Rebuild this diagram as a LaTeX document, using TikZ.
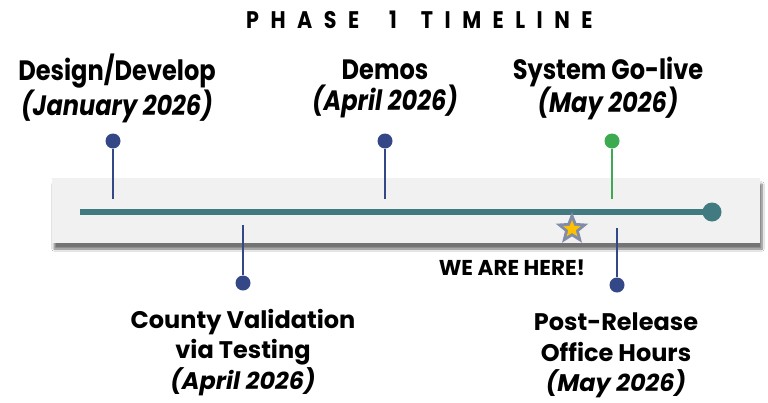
\documentclass[tikz,border=0pt]{standalone}
\usepackage{fontspec}
\setmainfont{Poppins}
\newfontfamily\condfont[FakeStretch=0.86]{Poppins}
\newcommand{\tgap}{\hspace{11.5pt}}
\usetikzlibrary{shapes.geometric,shadows.blur}
\definecolor{navy}{RGB}{52,72,135}
\definecolor{gogreen}{RGB}{59,170,80}
\definecolor{teal}{RGB}{66,122,130}
\definecolor{bandgray}{RGB}{241,241,241}
\definecolor{starblue}{RGB}{128,140,168}
\definecolor{staryellow}{RGB}{255,192,0}
\tikzset{
  band/.style={rectangle, fill=bandgray, inner sep=0pt, minimum width=708pt, minimum height=65pt,
    blur shadow={shadow xshift=2pt, shadow yshift=-6pt, shadow blur steps=8, shadow opacity=55}},
  mainline/.style={draw=teal, line width=6pt},
  endcirc/.style={circle, fill=teal, minimum width=19pt, inner sep=0pt},
  pindot/.style={circle, fill=navy, minimum size=15pt, inner sep=0pt},
  greendot/.style={circle, fill=gogreen, minimum size=15pt, inner sep=0pt},
  pinline/.style={draw=navy, line width=1.6pt},
  greenline/.style={draw=gogreen, line width=1.6pt},
  toplbl/.style={align=center, font=\condfont\bfseries\fontsize{28}{31}\selectfont, inner sep=0pt},
  botlbl/.style={align=center, font=\bfseries\fontsize{24}{30.5}\selectfont, inner sep=0pt},
  titlelbl/.style={font=\condfont\bfseries\fontsize{24}{26}\selectfont, inner sep=0pt},
  herelbl/.style={font=\bfseries\fontsize{21.5}{24}\selectfont, inner sep=0pt},
  outerstar/.style={star, star points=5, star point ratio=2.3, fill=starblue, minimum size=34pt, inner sep=0pt},
  innerstar/.style={star, star points=5, star point ratio=2.3, fill=staryellow, minimum size=18pt, inner sep=0pt}
}
\begin{document}
\begin{tikzpicture}[x=1pt,y=-1pt]
\useasboundingbox (0,0) rectangle (768,402);
\fill[white] (0,0) rectangle (768,402);
\node[titlelbl, anchor=west] (title) at (246,20) {P\tgap H\tgap A\tgap S\tgap E\hspace{30pt}1\hspace{24pt}T\tgap I\tgap M\tgap E\tgap L\tgap I\tgap N\tgap E};
\node[band] (band) at (406,210.5) {};
% main line
\coordinate (start) at (80,212);
\coordinate (endpt) at (712,212);
\draw[mainline] (start) -- (endpt);
\node[endcirc] (end) at (endpt) {};
% top pins
\node[pindot] (d1) at (113,141) {};
\coordinate (d1b) at (113,199);
\draw[pinline] (d1) -- (d1b);
\node[pindot] (d3) at (385,141) {};
\coordinate (d3b) at (385,199);
\draw[pinline] (d3) -- (d3b);
\node[greendot] (d4) at (612,141) {};
\coordinate (d4b) at (612,199);
\draw[greenline] (d4) -- (d4b);
% bottom pins
\node[pindot] (d2) at (243,283) {};
\coordinate (d2t) at (243,225);
\draw[pinline] (d2t) -- (d2);
\node[pindot] (d5) at (617,285) {};
\coordinate (d5t) at (617,228);
\draw[pinline] (d5t) -- (d5);
% star
\node[outerstar] (star) at (572,229) {};
\node[innerstar] (starin) at (star.center) {};
\node[herelbl] (here) at (512,268) {WE ARE HERE!};
% labels
\node[toplbl] (l1) at (117,88.5) {Design/Develop\\\textit{(January 2026)}};
\node[toplbl] (l3) at (385,88.5) {Demos\\\textit{(April 2026)}};
\node[toplbl] (l4) at (608,88.5) {System Go-live\\\textit{(May 2026)}};
\node[botlbl] (l2) at (243,352.5) {County Validation\\via Testing\\\textit{(April 2026)}};
\node[botlbl] (l5) at (616,355.5) {Post-Release\\Office Hours\\\textit{(May 2026)}};
\end{tikzpicture}
\end{document}
